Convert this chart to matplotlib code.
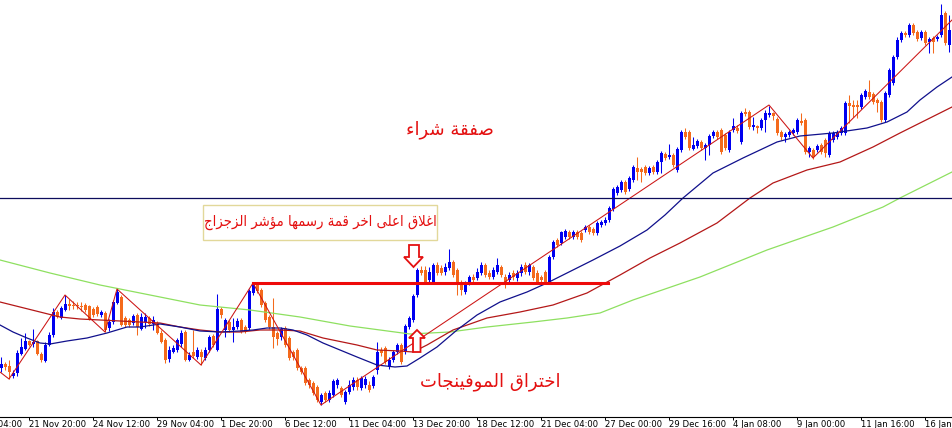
import numpy as np
import matplotlib.pyplot as plt
from matplotlib.patches import Polygon, Rectangle

# H4 candles, levels (pixel rows from the top, 0..417)
opens = [368,364,366,376,373,354,349,341,344,341,354,361,345,335,312,318,310,304,305,305,
         306,305,306,309,307,315,313,328,322,303,297,318,320,323,315,329,322,318,324,323,
         333,340,359,352,350,344,332,360,352,357,352,358,350,336,350,309,330,322,330,327,
         320,327,328,293,284,290,303,317,327,333,337,328,338,352,350,368,368,380,383,387,
         402,393,400,395,385,388,402,392,387,380,388,385,385,386,370,350,348,367,360,352,
         345,352,327,320,295,270,270,280,282,265,268,272,268,262,270,282,292,283,277,278,
         273,265,273,277,272,267,277,280,273,278,273,265,272,267,273,277,272,282,257,240,
         243,237,232,237,232,233,230,227,229,233,225,223,220,209,193,190,182,189,180,168,
         169,167,173,167,172,162,154,157,155,170,150,132,132,149,146,142,148,145,136,132,
         130,135,150,130,128,142,112,112,127,126,128,120,115,113,119,132,137,135,133,132,
         121,120,152,150,150,145,140,155,140,137,133,133,103,105,105,107,97,92,94,100,
         102,120,95,83,57,40,33,35,25,32,38,32,42,38,39,35,13,45]
closes = [364,367,372,373,353,347,341,345,342,354,360,345,335,312,317,308,304,306,306,306,
          307,310,319,315,314,312,330,322,302,292,325,325,325,316,327,317,317,324,320,333,
          342,360,350,348,340,333,360,355,356,350,357,350,337,345,309,315,320,330,327,321,
          332,332,291,285,291,305,320,327,337,339,329,345,358,357,368,372,383,385,393,400,
          395,400,393,381,380,395,392,385,380,387,378,379,390,377,352,353,362,360,352,345,
          362,326,318,296,270,273,282,272,265,273,273,267,262,275,285,290,283,277,280,272,
          265,275,277,270,265,275,283,275,277,273,267,272,265,278,282,280,282,257,242,245,
          232,231,237,232,237,240,227,232,233,223,222,220,208,189,187,182,192,178,167,172,
          172,173,168,172,162,153,158,155,165,149,132,137,148,145,141,148,145,136,132,137,
          152,148,132,126,131,113,114,127,125,128,120,113,113,116,133,137,134,132,130,120,
          123,152,148,157,146,152,153,133,133,132,128,103,106,107,107,95,91,97,102,103,
          120,93,70,57,40,33,35,25,33,39,32,43,39,42,37,15,43,30]
highs = [357,362,360,370,350,338,333,340,329,340,352,342,332,308,310,306,295,299,301,302,
         302,303,305,307,305,310,311,319,300,289,295,316,318,314,313,313,313,316,316,321,
         330,338,346,345,338,330,330,352,330,347,349,347,335,334,294,307,318,320,318,318,
         318,325,289,283,283,288,301,315,298,331,327,326,336,350,348,366,366,378,381,385,
         393,391,390,379,378,386,390,380,377,377,376,376,381,375,342,347,346,357,350,343,
         343,324,316,294,268,266,266,267,263,262,265,263,249,260,268,280,281,275,274,268,
         262,263,270,267,258,265,274,272,270,270,264,262,263,265,270,275,270,255,240,238,
         231,229,230,230,230,231,225,225,227,221,220,217,206,187,185,180,180,176,165,157,
         167,165,166,165,160,151,152,144,153,147,130,128,130,137,139,140,143,134,130,130,
         128,133,130,118,125,111,108,110,117,125,118,110,106,112,117,130,132,130,128,118,
         113,118,146,148,144,143,138,131,131,130,126,101,95,100,100,93,89,80,92,98,
         100,91,68,55,37,31,31,23,23,30,30,30,37,36,35,4,11,15]
lows = [372,370,379,378,376,355,350,346,347,355,362,362,346,337,318,319,311,310,309,309,
        311,312,320,317,316,317,332,331,324,304,326,327,327,325,335,330,328,326,330,334,
        343,363,362,353,352,347,361,361,358,359,365,360,352,347,351,318,337,332,342,329,
        333,333,330,295,293,307,322,329,348,345,340,347,360,360,370,374,385,388,395,402,
        405,402,402,397,388,397,404,394,390,390,390,388,392,388,374,356,364,369,362,354,
        364,354,329,322,297,275,284,282,284,275,275,275,270,277,295,295,294,285,283,280,
        275,277,279,279,274,277,288,283,280,281,276,274,275,280,284,283,284,283,259,247,
        245,239,239,239,239,242,232,234,235,235,227,225,222,211,195,192,194,191,182,180,
        182,175,175,174,174,173,160,159,167,172,152,139,150,150,148,150,160,155,138,139,
        154,150,152,132,133,144,116,129,130,133,130,132,117,120,135,140,142,137,135,134,
        125,154,157,159,152,154,157,157,142,139,135,135,123,117,118,109,99,99,104,112,
        122,122,97,85,59,42,37,37,35,41,40,45,53,53,41,37,45,52]

# moving averages and zigzag, sampled as (candle index, level)
ma_blue = [(-0.25,325),(3,332),(6.5,338),(9.75,343),(12.25,344),(16.5,341),(21.5,338),(26.5,333),
           (29,330),(31.5,327),(34.75,327),(39.75,324),(44.75,327),(49.75,331),(54.75,332),
           (59.75,331),(63,330),(66.5,328),(69.75,328),(73,330),(76.5,335),(80.5,343),(84.75,350),
           (89,357),(94,365),(98.5,367),(101.5,366),(104.75,358),(109,347),(114,330),(119,315),
           (124.75,302),(131.5,292),(136.5,283),(141.5,273),(148,260),(154.75,246),(161.5,230),
           (166,215),(170.5,198),(178,173),(185.5,158),(194,142),(199.75,136),(208,133),
           (216.5,128),(221.5,122),(226.5,112),(229.75,100),(234,87),(237.75,77)]
ma_red = [(-0.25,302),(4.75,307),(9.75,312),(14.75,317),(19.75,319),(24.75,320),(29.75,321),
          (34.75,322),(39.75,323),(44.75,327),(49.75,330),(54.75,332),(59.75,332),(64.75,330),
          (69.75,330),(74.75,331),(80.5,338),(89,345),(94,350),(99.75,351),(103,352),(106.5,345),
          (113,330),(121.5,318),(129.75,312),(138,305),(146.5,293),(154.75,275),(162.25,258),
          (169.75,243),(179,223),(187.25,198),(193,183),(201.5,170),(209.75,162),(218,147),
          (224.75,133),(229.75,123),(237.75,107)]
ma_green = [(-0.25,260),(12.25,273),(24.75,285),(37.25,295),(49.75,305),(62.25,310),(74.75,317),
            (87.25,326),(102.25,334),(112.25,332),(121.5,327),(133,322),(141.5,318),(149.75,313),
            (158,300),(174.75,277),(191.5,250),(208,227),(220.5,207),(224.75,198),(237.75,172)]
zigzag = [(-0.25,372),(2,379),(16,295),(26,332),(29,289),(50,365),(63,283),(80,405),
          (192,105),(203,158),(237.75,20)]

tick_pos = [7 + 16 * j for j in range(-1, 15)]
tick_labels = ["19 Nov 04:00", "21 Nov 20:00", "24 Nov 12:00", "29 Nov 04:00", "1 Dec 20:00",
               "6 Dec 12:00", "11 Dec 04:00", "13 Dec 20:00", "18 Dec 12:00", "21 Dec 04:00",
               "27 Dec 00:00", "29 Dec 16:00", "4 Jan 08:00", "9 Jan 00:00", "11 Jan 16:00",
               "16 Jan 08:00"]

label_buy = "صفقة شراء"
label_close = "اغلاق اعلى اخر قمة رسمها مؤشر الزجزاج"
label_break = "اختراق الموفينجات"

# small arabic shaper: matplotlib does not join letters nor write right to left
FORMS = {'ء': (0xFE80, 1), 'آ': (0xFE81, 2), 'أ': (0xFE83, 2), 'ؤ': (0xFE85, 2), 'إ': (0xFE87, 2),
         'ئ': (0xFE89, 4), 'ا': (0xFE8D, 2), 'ب': (0xFE8F, 4), 'ة': (0xFE93, 2), 'ت': (0xFE95, 4),
         'ث': (0xFE99, 4), 'ج': (0xFE9D, 4), 'ح': (0xFEA1, 4), 'خ': (0xFEA5, 4), 'د': (0xFEA9, 2),
         'ذ': (0xFEAB, 2), 'ر': (0xFEAD, 2), 'ز': (0xFEAF, 2), 'س': (0xFEB1, 4), 'ش': (0xFEB5, 4),
         'ص': (0xFEB9, 4), 'ض': (0xFEBD, 4), 'ط': (0xFEC1, 4), 'ظ': (0xFEC5, 4), 'ع': (0xFEC9, 4),
         'غ': (0xFECD, 4), 'ف': (0xFED1, 4), 'ق': (0xFED5, 4), 'ك': (0xFED9, 4), 'ل': (0xFEDD, 4),
         'م': (0xFEE1, 4), 'ن': (0xFEE5, 4), 'ه': (0xFEE9, 4), 'و': (0xFEED, 2), 'ى': (0xFEEF, 2),
         'ي': (0xFEF1, 4)}
LAM_ALEF = {'ا': 0xFEFB, 'أ': 0xFEF7, 'إ': 0xFEF9, 'آ': 0xFEF5}


def shape(text):
    out = []
    i = 0
    while i < len(text):
        ch = text[i]
        if ch not in FORMS:
            out.append(ch)
            i += 1
            continue
        prev = text[i - 1] if i > 0 else ''
        nxt = text[i + 1] if i + 1 < len(text) else ''
        joins_prev = prev in FORMS and FORMS[prev][1] == 4
        if ch == 'ل' and nxt in LAM_ALEF:
            out.append(chr(LAM_ALEF[nxt] + (1 if joins_prev else 0)))
            i += 2
            continue
        base, nf = FORMS[ch]
        joins_next = nf == 4 and nxt in FORMS and nxt != 'ء'
        if nf == 1:
            code = base
        elif joins_prev and joins_next:
            code = base + 3
        elif joins_prev:
            code = base + 1
        elif joins_next:
            code = base + 2
        else:
            code = base
        out.append(chr(code))
        i += 1
    return ''.join(reversed(out))


H = 428  # level -> price
o = H - np.array(opens)
c = H - np.array(closes)
h = H - np.array(highs)
l = H - np.array(lows)
x = np.arange(len(o))

BLUE = '#0000f0'
ORANGE = '#f46a1c'
RED = '#e41010'

fig = plt.figure(figsize=(9.52, 4.28), dpi=100)
ax = fig.add_axes([0, 11 / 428, 1, 417 / 428])

cols = np.where(c >= o, BLUE, ORANGE)
ax.vlines(x, l, h, colors=cols, lw=0.75, zorder=2)
ax.bar(x, np.maximum(np.abs(c - o), 1), bottom=np.minimum(o, c), width=0.75,
       color=cols, lw=0, zorder=2)

for pts, col, lw in [(ma_green, '#8ee060', 0.9), (ma_red, '#b41818', 0.9),
                     (ma_blue, '#10108c', 0.9), (zigzag, '#cc1414', 0.75)]:
    px, py = zip(*pts)
    ax.plot(px, H - np.array(py), color=col, lw=lw, zorder=3)

ax.axhline(H - 198, color='#0c0c5c', lw=0.9, zorder=3)
ax.plot([63, 151.75], [H - 283, H - 283], color='#ee0a0a', lw=2.2, zorder=4)


def to_data(pts):
    return [((xp - 1) / 4, H - yp) for xp, yp in pts]


down = [(409, 245), (419, 245), (419, 257), (423, 257), (413.5, 267), (404, 257), (409, 257)]
up = [(417, 330), (425, 338), (420.5, 338), (420.5, 352), (413, 352), (413, 338), (409, 338)]
for shp in (down, up):
    ax.add_patch(Polygon(to_data(shp), closed=True, fc='white', ec=RED, lw=1.3, zorder=5))

ax.add_patch(Rectangle(((203 - 1) / 4, H - 240), 234 / 4, 35, fc='white', ec='#e2d89a',
                       lw=1.0, zorder=5))
ax.text((320 - 1) / 4, H - 222, shape(label_close), color=RED, fontsize=10.6,
        family='DejaVu Sans', fontstretch='condensed', ha='center', va='center', zorder=6)
ax.text((450 - 1) / 4, H - 130, shape(label_buy), color=RED, fontsize=13,
        family='DejaVu Sans', ha='center', va='center', zorder=6)
ax.text((490 - 1) / 4, H - 382, shape(label_break), color=RED, fontsize=13,
        family='DejaVu Sans', ha='center', va='center', zorder=6)

for side in ['left', 'right', 'top']:
    ax.spines[side].set_visible(False)
ax.spines['bottom'].set_linewidth(0.8)
ax.set_yticks([])
ax.set_xticks(tick_pos[1:], tick_labels[1:], fontsize=6.1)
for lab in ax.get_xticklabels():
    lab.set_horizontalalignment('left')
ax.tick_params(axis='x', length=2.2, width=0.7, pad=0.3)
# first label belongs to a tick left of the view, only its end shows
ax.annotate(tick_labels[0], xy=(tick_pos[0], 0), xycoords=('data', 'axes fraction'),
            xytext=(0, -2.5), textcoords='offset points', ha='left', va='top',
            fontsize=6.1, annotation_clip=False)
# limits after the ticks, set_xticks widens the view otherwise
ax.set_xlim(-0.25, 237.75)
ax.set_ylim(11, 428)

fig.savefig('out.png', dpi=100, facecolor='white')
